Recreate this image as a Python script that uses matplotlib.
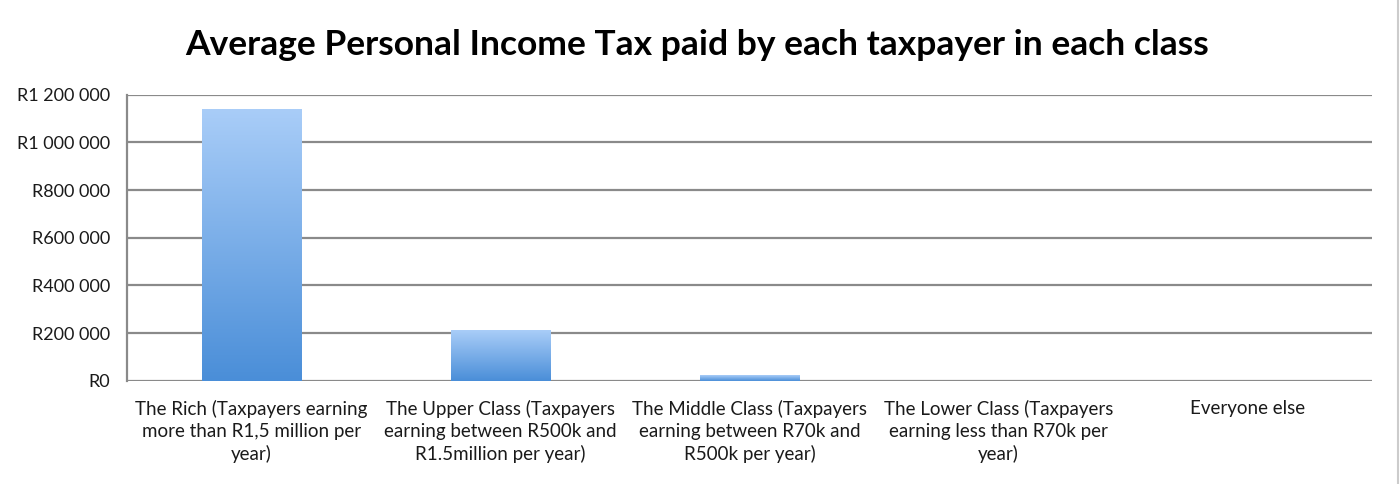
import numpy as np
import matplotlib.pyplot as plt
from matplotlib.colors import LinearSegmentedColormap
from matplotlib.lines import Line2D

# data
categories = [
    "The Rich (Taxpayers earning\nmore than R1,5 million per\nyear)",
    "The Upper Class (Taxpayers\nearning between R500k and\nR1.5million per year)",
    "The Middle Class (Taxpayers\nearning between R70k and\nR500k per year)",
    "The Lower Class (Taxpayers\nearning less than R70k per\nyear)",
    "Everyone else",
]
avg_tax = [1140000, 212000, 21000, 0, 0]
y_ticks = [0, 200000, 400000, 600000, 800000, 1000000, 1200000]
y_tick_labels = ["R0", "R200 000", "R400 000", "R600 000", "R800 000",
                 "R1 000 000", "R1 200 000"]

plt.rcParams['font.family'] = ['Lato', 'DejaVu Sans']

fig = plt.figure(figsize=(14, 4.84), dpi=100)
ax = fig.add_axes([0.0907, 0.2134, 0.8893, 0.5909])

x = np.arange(len(categories))
ymax = 1200000

# gradient bars: light blue at top, darker blue at the base
cmap = LinearSegmentedColormap.from_list("barfade", ["#4a8ed8", "#a9cdf8"])
grad = np.linspace(0, 1, 256).reshape(-1, 1)
bars = ax.bar(x, avg_tax, width=0.4, color="none", edgecolor="none", zorder=3)
for bar in bars:
    h = bar.get_height()
    if h <= 0:
        continue
    x0 = bar.get_x()
    w = bar.get_width()
    ax.imshow(grad, cmap=cmap, origin="lower", aspect="auto",
              extent=[x0, x0 + w, 0, h], zorder=3,
              vmin=0, vmax=1, interpolation="bilinear")

ax.set_xlim(-0.5, len(categories) - 0.5)
ax.set_ylim(0, ymax)

ax.set_yticks(y_ticks)
ax.set_yticklabels(y_tick_labels, fontsize=13, color="#1a1a1a")
ax.set_xticks(x)
ax.set_xticklabels(categories, fontsize=13.5, color="#1a1a1a", linespacing=1.35)
ax.tick_params(axis="both", length=0)
ax.tick_params(axis="y", pad=12)
ax.tick_params(axis="x", pad=14)

ax.grid(axis="y", color="#8a8a8a", linewidth=1.6, zorder=1)
ax.set_axisbelow(True)
for side in ["top", "right", "bottom"]:
    ax.spines[side].set_visible(False)
ax.spines["left"].set_color("#8a8a8a")
ax.spines["left"].set_linewidth(1.6)

fig.suptitle("Average Personal Income Tax paid by each taxpayer in each class",
             fontsize=25.5, fontweight="bold", x=0.498, y=0.94)

# thin frame line on the right edge of the chart image
fig.add_artist(Line2D([0.9985, 0.9985], [0, 1], color="#cccccc", linewidth=1.5))

fig.savefig("out.png", dpi=100)
